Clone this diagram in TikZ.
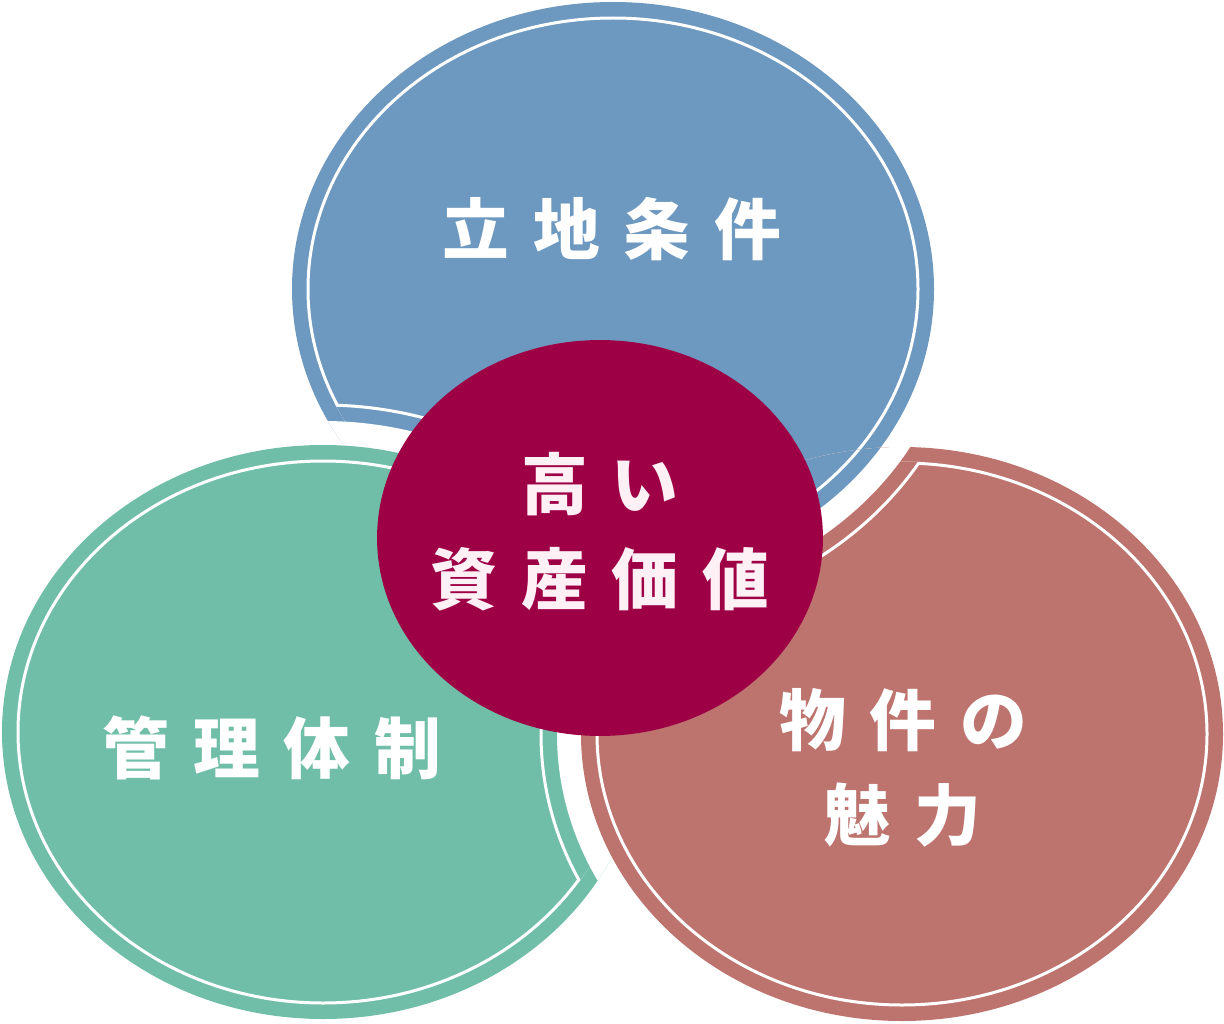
\documentclass[tikz,border=0pt]{standalone}
\usepackage{fontspec}
\newfontfamily\jpfont{Noto Sans CJK JP}
\definecolor{sitecolor}{HTML}{6D98BF}
\definecolor{carecolor}{HTML}{70BEA8}
\definecolor{homecolor}{HTML}{BD736E}
\definecolor{valuecolor}{HTML}{9E0046}
\definecolor{valuetext}{HTML}{FFF0F6}
\newcommand{\jgap}{\hspace{13.5pt}}

\begin{document}
\begin{tikzpicture}[%
        x = 0.02cm,
        y = -0.02cm,
        rim/.style = {x radius = {(321 + #1)*0.02cm}, y radius = {(287 + #1)*0.02cm}},
        ringline/.style = {draw = white, line width = 0.06cm},
        lbl/.style = {text = white, align = center,
            font = \jpfont\bfseries\fontsize{38pt}{54pt}\selectfont}
    ]

        \useasboundingbox (0, 0) rectangle (1224, 1024);

        % Centres of the three circles.
        \coordinate (site) at (613, 289);
        \coordinate (care) at (323, 732);
        \coordinate (home) at (902, 734);

        % Blue circle.
        \fill[sitecolor] (site) ellipse [rim = 0];
        \draw[ringline] (site) ellipse [rim = -16];

        % Teal circle, cut into the blue one.
        \begin{scope}
            \clip (site) ellipse [rim = -14.5];
            \filldraw[fill = sitecolor, ringline] (care) ellipse [rim = 40];
        \end{scope}
        \begin{scope}
            \clip (site) ellipse [rim = 0];
            \fill[white] (care) ellipse [rim = 24];
        \end{scope}
        \fill[carecolor] (care) ellipse [rim = 0];
        \draw[ringline] (care) ellipse [rim = -16];

        % Red circle, cut into the teal one.
        \begin{scope}
            \clip (care) ellipse [rim = -14.5];
            \filldraw[fill = carecolor, ringline] (home) ellipse [rim = 40];
        \end{scope}
        \begin{scope}
            \clip (care) ellipse [rim = 0];
            \fill[white] (home) ellipse [rim = 24];
        \end{scope}
        \fill[homecolor] (home) ellipse [rim = 0];
        \draw[ringline] (home) ellipse [rim = -16];

        % Blue again on top of the red one.
        \begin{scope}
            \clip (home) ellipse [rim = -14.5];
            \filldraw[fill = homecolor, ringline] (site) ellipse [rim = 40];
        \end{scope}
        \begin{scope}
            \clip (home) ellipse [rim = 0];
            \fill[white] (site) ellipse [rim = 24];
            \fill[sitecolor] (site) ellipse [rim = 0];
            \draw[ringline] (site) ellipse [rim = -16];
        \end{scope}

        % Centre circle.
        \fill[valuecolor] (600, 538) ellipse [x radius = 4.46cm, y radius = 3.96cm];

        % Labels.
        \node[lbl] (site label) at (612, 229) {立\jgap 地\jgap 条\jgap 件};
        \node[lbl] (care label) at (272, 748) {管\jgap 理\jgap 体\jgap 制};
        \node[lbl] (home label) at (903, 768) {物\jgap 件\jgap の\\魅\jgap 力};
        \node[lbl, text = valuetext] (value label) at (600, 532)
            {高\jgap い\\資\jgap 産\jgap 価\jgap 値};
    \end{tikzpicture}
\end{document}
